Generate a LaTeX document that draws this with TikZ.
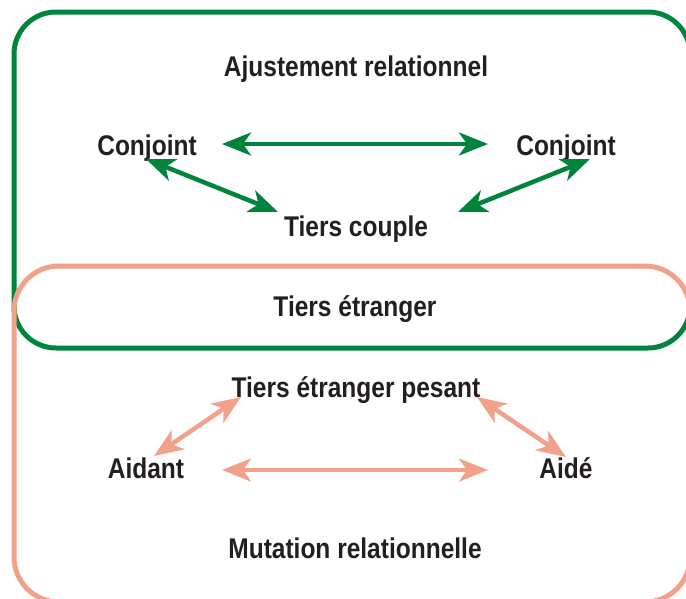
\documentclass[tikz,border=0pt]{standalone}
\usepackage{fontspec}
\setmainfont{Liberation Sans}[FakeStretch=0.86]
\usetikzlibrary{arrows.meta}
\definecolor{frgreen}{RGB}{0,132,61}
\definecolor{frsalmon}{RGB}{242,162,138}
\definecolor{ink}{RGB}{35,31,32}
\tikzset{
  lbl/.style={anchor=base, text=ink, inner sep=0pt,
    font=\fontsize{28.5}{31}\selectfont\bfseries},
  greenframe/.style={draw=frgreen, line width=5pt, rounded corners=42pt},
  salmonframe/.style={draw=frsalmon, line width=5pt, rounded corners=45pt},
  linkline/.style={line width=4.5pt,
    {Stealth[length=29pt, width=23pt, inset=8pt]}-{Stealth[length=29pt, width=23pt, inset=8pt]}},
  greenlink/.style={linkline, draw=frgreen},
  salmonlink/.style={linkline, draw=frsalmon},
}
\begin{document}
\begin{tikzpicture}[x=1pt, y=-1pt]
\useasboundingbox (0,0) rectangle (686,598);
\clip (0,0) rectangle (686,598);

% the two overlapping frames
\draw[greenframe] (14,12) rectangle (690,348);
\draw[salmonframe] (14,266) rectangle (690,602);

% labels
\node[lbl] (ajust) at (356,76) {Ajustement relationnel};
\node[lbl] (conjL) at (147,155) {Conjoint};
\node[lbl] (conjR) at (566,155) {Conjoint};
\node[lbl] (tcouple) at (356,236) {Tiers couple};
\node[lbl] (tetr) at (355,316) {Tiers étranger};
\node[lbl] (tpesant) at (356,397) {Tiers étranger pesant};
\node[lbl] (aidant) at (146,478) {Aidant};
\node[lbl] (aide) at (566,478) {Aidé};
\node[lbl] (mutation) at (355,558) {Mutation relationnelle};

% arrow end points
\coordinate (cLh) at (222,144);
\coordinate (cRh) at (488,144);
\coordinate (cLd) at (146,159);
\coordinate (tcL) at (278,212);
\coordinate (cRd) at (590,159);
\coordinate (tcR) at (458,212);
\coordinate (aidD) at (154,456);
\coordinate (tpL) at (241,397);
\coordinate (tpR) at (477,397);
\coordinate (aideD) at (566,457);
\coordinate (aidH) at (222,470);
\coordinate (aideH) at (488,470);

% couple relations
\draw[greenlink] (cLh) -- (cRh);
\draw[greenlink] (cLd) -- (tcL);
\draw[greenlink] (cRd) -- (tcR);

% helping relations
\draw[salmonlink] (aidD) -- (tpL);
\draw[salmonlink] (tpR) -- (aideD);
\draw[salmonlink] (aidH) -- (aideH);
\end{tikzpicture}
\end{document}
